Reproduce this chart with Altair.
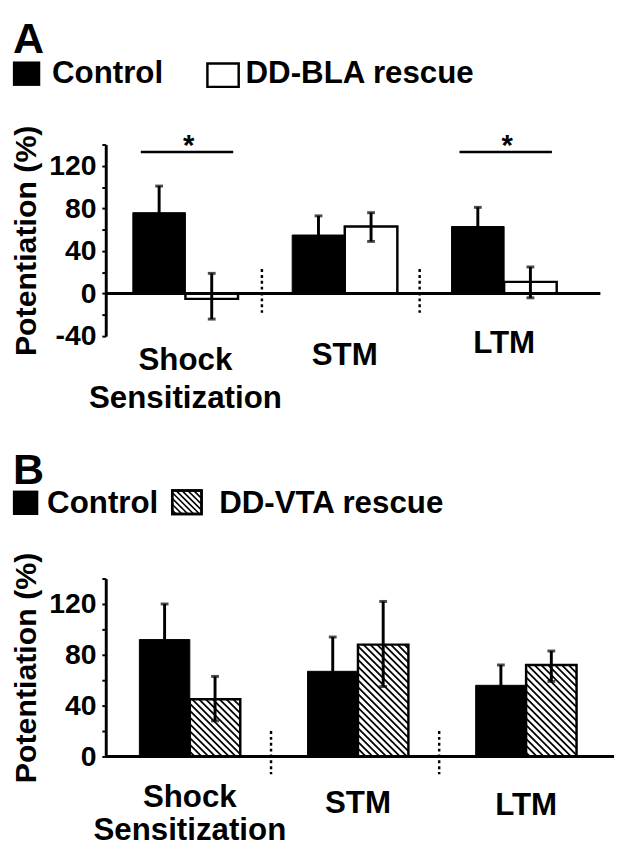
import altair as alt
import pandas as pd

# ---------------- data ----------------
groups = ["Shock Sensitization", "STM", "LTM"]

# Panel A: Control vs DD-BLA rescue
a_control = [76, 55, 63]
a_control_lo = [51, 37, 45]
a_control_hi = [101, 73, 81]
a_rescue = [-5, 63, 11]
a_rescue_lo = [-24, 49, -4]
a_rescue_hi = [19, 76, 25]
a_sig_groups = [0, 2]

# Panel B: Control vs DD-VTA rescue
b_control = [92, 67, 56]
b_control_lo = [64, 40, 40]
b_control_hi = [120, 94, 72]
b_rescue = [45, 88, 72]
b_rescue_lo = [28, 55, 59]
b_rescue_hi = [63, 122, 83]

a_ticks = [-40, -20, 0, 20, 40, 60, 80, 100, 120, 140]
b_ticks = [0, 20, 40, 60, 80, 100, 120, 140]

# category label lines (text, group index, y in data units)
a_labels = [("Shock", 0, -63), ("Sensitization", 0, -98), ("STM", 1, -58), ("LTM", 2, -47)]
b_labels = [("Shock", 0, -32), ("Sensitization", 0, -58), ("STM", 1, -37), ("LTM", 2, -38)]

FONT = "Liberation Sans"
BLACK = "#000000"


def hatch_data(x0, x1, y0, y1, pxu, pyu, spacing=7.0):
    """diagonal '\\' hatch segments (data units) inside rectangle"""
    u0, u1 = x0 * pxu, x1 * pxu
    w0, w1 = min(y0, y1) * pyu, max(y0, y1) * pyu
    rows = []
    k0 = int((u0 + w0) // spacing) - 1
    k1 = int((u1 + w1) // spacing) + 2
    for k in range(k0, k1):
        c = k * spacing
        us = max(u0, c - w1)
        ue = min(u1, c - w0)
        if ue - us > 0.5:
            rows.append({"hx": us / pxu, "hy": (c - us) / pyu,
                         "hx2": ue / pxu, "hy2": (c - ue) / pyu})
    return rows


def legend_hatch(x0, x1, y0, y1, spacing=6.0):
    rows = []
    k0 = int((x0 - y1) // spacing) - 1
    k1 = int((x1 - y0) // spacing) + 2
    for k in range(k0, k1):
        c = k * spacing
        # screen line: y = x - c  (going down-right)
        xs = max(x0, y0 + c)
        xe = min(x1, y1 + c)
        if xe - xs > 0.5:
            rows.append({"lx": xs, "ly": xs - c, "lx2": xe, "ly2": xe - c})
    return rows


def panel(ctrl, ctrl_lo, ctrl_hi, resc, resc_lo, resc_hi, labels, ticks,
          ydom, xdom, width, height, bw, letter, legend_name, hatched,
          sig_groups, leg):
    pxu = width / xdom
    pyu = height / (ydom[1] - ydom[0])
    xs = alt.Scale(domain=[0, xdom], nice=False, zero=False)
    ys = alt.Scale(domain=ydom, nice=False, zero=False)

    yaxis = alt.Axis(values=ticks, labelExpr="datum.value % 40 == 0 ? '' + datum.value : ''",
                     grid=False, tickSize=4, tickWidth=2, tickColor=BLACK,
                     domainWidth=3, domainColor=BLACK, labelFont=FONT, labelFontSize=29,
                     labelFontWeight="bold", labelColor=BLACK, labelPadding=6,
                     labelOverlap=False, title="Potentiation (%)", titleFont=FONT,
                     titleFontSize=31, titleFontWeight="bold", titleColor=BLACK,
                     titlePadding=6)

    def X(f):
        return alt.X(f, type="quantitative", scale=xs, axis=None)

    def Y(f):
        return alt.Y(f, type="quantitative", scale=ys, axis=yaxis)

    rows = []
    for g in range(len(groups)):
        c = g + 0.5
        rows.append({"grp": groups[g], "series": "Control", "x0": c - bw, "x1": c,
                     "xc": c - bw / 2, "v": ctrl[g], "lo": ctrl_lo[g], "hi": ctrl_hi[g], "zero": 0})
        rows.append({"grp": groups[g], "series": "Rescue", "x0": c, "x1": c + bw,
                     "xc": c + bw / 2, "v": resc[g], "lo": resc_lo[g], "hi": resc_hi[g], "zero": 0})
    df = pd.DataFrame(rows)
    dctrl = df[df.series == "Control"]
    dres = df[df.series == "Rescue"]

    layers = []
    layers.append(alt.Chart(dctrl).mark_bar(color=BLACK, stroke=BLACK, strokeWidth=1).encode(
        x=X("x0"), x2="x1", y=Y("v"), y2="zero"))
    if hatched:
        layers.append(alt.Chart(dres).mark_bar(fill="white").encode(
            x=X("x0"), x2="x1", y=Y("v"), y2="zero"))
        hrows = []
        for _, r in dres.iterrows():
            hrows += hatch_data(r.x0, r.x1, 0, r.v, pxu, pyu)
        layers.append(alt.Chart(pd.DataFrame(hrows)).mark_rule(color=BLACK, strokeWidth=1.8).encode(
            x=X("hx"), y=Y("hy"), x2="hx2", y2="hy2"))
        layers.append(alt.Chart(dres).mark_bar(fillOpacity=0, stroke=BLACK, strokeWidth=2.5).encode(
            x=X("x0"), x2="x1", y=Y("v"), y2="zero"))
    else:
        layers.append(alt.Chart(dres).mark_bar(fill="white", stroke=BLACK, strokeWidth=2.5).encode(
            x=X("x0"), x2="x1", y=Y("v"), y2="zero"))

    # zero line (x axis)
    layers.append(alt.Chart(pd.DataFrame({"z": [0]})).mark_rule(color=BLACK, strokeWidth=3).encode(
        y=Y("z"), x=alt.value(0), x2=alt.value(width)))

    # dotted dividers
    ddf = pd.DataFrame({"dx": leg["div_x"], "dy0": [leg["div"][0]] * 2, "dy1": [leg["div"][1]] * 2})
    layers.append(alt.Chart(ddf).mark_rule(color=BLACK, strokeWidth=2.5, strokeDash=[3, 3]).encode(
        x=X("dx"), y=Y("dy0"), y2="dy1"))

    # error bars
    layers.append(alt.Chart(df).mark_rule(color=BLACK, strokeWidth=3).encode(
        x=X("xc"), y=Y("lo"), y2="hi"))
    caps = pd.concat([df.assign(cy=df.hi), df.assign(cy=df.lo)])
    layers.append(alt.Chart(caps).mark_tick(color=BLACK, orient="horizontal", size=8, thickness=3).encode(
        x=X("xc"), y=Y("cy")))

    # category labels
    ldf = pd.DataFrame([{"t": t, "lx": g + 0.5, "ly": y} for t, g, y in labels])
    layers.append(alt.Chart(ldf).mark_text(font=FONT, fontSize=32, fontWeight="bold", color=BLACK,
                                           baseline="middle", align="center").encode(
        x=X("lx"), y=Y("ly"), text="t:N"))

    # significance brackets
    if sig_groups:
        sdf = pd.DataFrame([{"sx0": g + 0.22, "sx1": g + 0.80, "sm": g + 0.52, "sy": 133, "st": "*"}
                            for g in sig_groups])
        layers.append(alt.Chart(sdf).mark_rule(color=BLACK, strokeWidth=2.5).encode(
            x=X("sx0"), x2="sx1", y=Y("sy")))
        layers.append(alt.Chart(sdf).mark_text(font=FONT, fontSize=30, fontWeight="bold", color=BLACK,
                                               baseline="alphabetic", align="center", dy=3).encode(
            x=X("sm"), y=Y("sy"), text="st:N"))

    # panel letter
    layers.append(alt.Chart(pd.DataFrame({"t": [letter]})).mark_text(
        font=FONT, fontSize=44, fontWeight="bold", color=BLACK, align="left", baseline="alphabetic").encode(
        x=alt.value(-95), y=alt.value(leg["letter_y"]), text="t:N"))

    # legend
    sq = leg["sq"]
    layers.append(alt.Chart(pd.DataFrame({"a": [0]})).mark_rect(color=BLACK).encode(
        x=alt.value(-95), x2=alt.value(-95 + sq[2]), y=alt.value(sq[0]), y2=alt.value(sq[1])))
    layers.append(alt.Chart(pd.DataFrame({"t": ["Control"]})).mark_text(
        font=FONT, fontSize=32, fontWeight="bold", color=BLACK, align="left", baseline="middle").encode(
        x=alt.value(leg["ctrl_x"]), y=alt.value(leg["text_y"]), text="t:N"))
    bx0, bx1 = leg["box_x"]
    by0, by1 = leg["box_y"]
    layers.append(alt.Chart(pd.DataFrame({"a": [0]})).mark_rect(fill="white", stroke=BLACK, strokeWidth=2.5).encode(
        x=alt.value(bx0), x2=alt.value(bx1), y=alt.value(by0), y2=alt.value(by1)))
    if hatched:
        lh = legend_hatch(bx0, bx1, by0, by1)
        layers.append(alt.Chart(pd.DataFrame(lh)).mark_rule(color=BLACK, strokeWidth=1.6).encode(
            x=alt.X("lx:Q", scale=None), y=alt.Y("ly:Q", scale=None),
            x2="lx2:Q", y2="ly2:Q"))
        layers.append(alt.Chart(pd.DataFrame({"a": [0]})).mark_rect(fillOpacity=0, stroke=BLACK, strokeWidth=2.5).encode(
            x=alt.value(bx0), x2=alt.value(bx1), y=alt.value(by0), y2=alt.value(by1)))
    layers.append(alt.Chart(pd.DataFrame({"t": [legend_name]})).mark_text(
        font=FONT, fontSize=32, fontWeight="bold", color=BLACK, align="left", baseline="middle").encode(
        x=alt.value(leg["name_x"]), y=alt.value(leg["text_y"]), text="t:N"))

    return alt.layer(*layers).properties(width=width, height=height)


legA = {"div": [23, -18], "div_x": [0.98, 1.97], "letter_y": -94, "sq": [-85, -60, 28], "ctrl_x": -55,
        "text_y": -73, "box_x": [104, 136], "box_y": [-83, -59], "name_x": 143}
legB = {"div": [20, -14], "div_x": [0.983, 1.983], "letter_y": -97, "sq": [-90, -65, 26], "ctrl_x": -60,
        "text_y": -77, "box_x": [68, 98], "box_y": [-90, -66], "name_x": 116}

pA = panel(a_control, a_control_lo, a_control_hi, a_rescue, a_rescue_lo, a_rescue_hi,
           a_labels, a_ticks, [-40, 140], 3.104, 506, 196, 0.33, "A", "DD-BLA rescue",
           False, a_sig_groups, legA)
pB = panel(b_control, b_control_lo, b_control_hi, b_rescue, b_rescue_lo, b_rescue_hi,
           b_labels, b_ticks, [0, 140], 3.023, 520, 182, 0.30, "B", "DD-VTA rescue",
           True, [], legB)

chart = alt.vconcat(pA, pB, spacing=36).properties(
    padding={"left": 3, "top": 1, "right": 0, "bottom": -6}).configure_view(stroke=None)

chart.save("out.html", embed_options={"renderer": "svg", "actions": False})
